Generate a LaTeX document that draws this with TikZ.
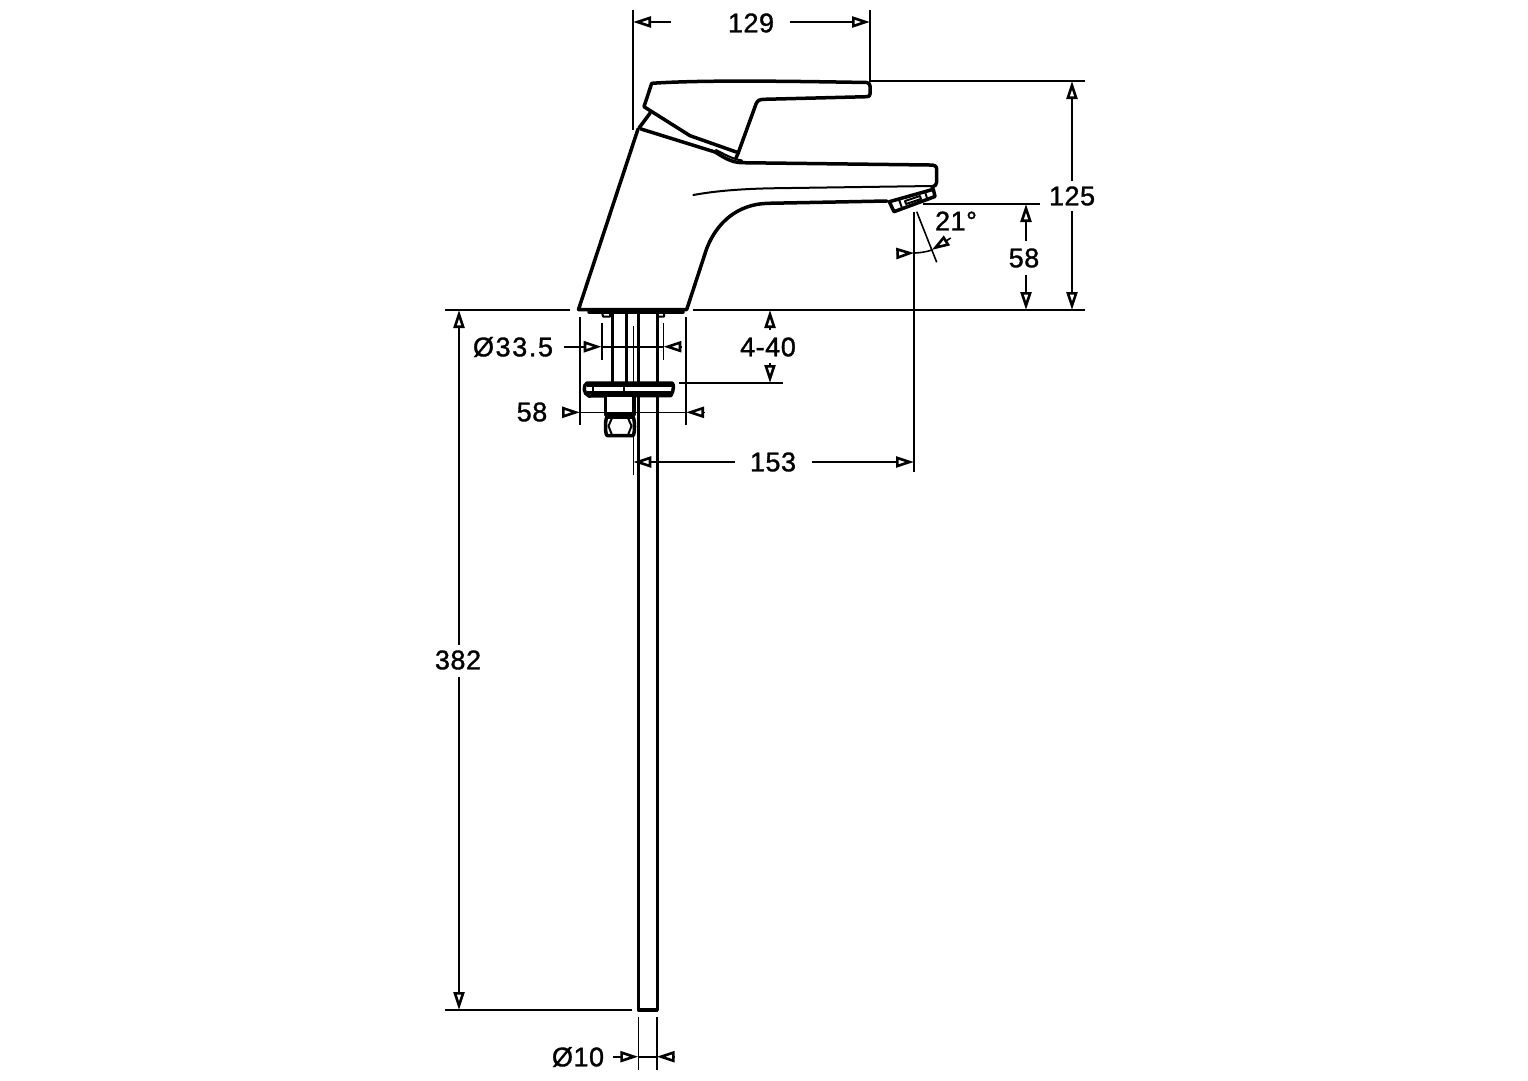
\documentclass[tikz,border=0pt]{standalone}
\usepackage{fontspec}
\setmainfont{Liberation Sans}
\usetikzlibrary{arrows.meta}
\tikzset{
  dimtip/.tip={Triangle[open,length=18pt,width=11pt,line width=2.6pt]},
  obj/.style={line width=3.5pt,line join=round,line cap=round,black},
  med/.style={line width=2pt,line join=round,line cap=round,black},
  dim/.style={line width=1.6pt,black},
  lab/.style={inner sep=0pt,font=\fontsize{27}{27}\selectfont\addfontfeatures{LetterSpace=2,FakeBold=1.2}}
}
\begin{document}
\begin{tikzpicture}[x=1pt,y=-1pt]
\useasboundingbox[fill=white] (0,0) rectangle (1528,1080);
% handle
\draw[obj] (651.7,83.3) .. controls (700,80) and (780,81) .. (866.7,82.5)
  .. controls (869,83) and (870,84) .. (870,86) -- (870,94)
  .. controls (870,96) and (869,96.5) .. (866.7,96.7) -- (764,99.3)
  .. controls (759,99.5) and (757.5,100.5) .. (756,104)
  -- (738.3,152.7) -- (690,135.7) -- (644,106.7) -- cycle;
\draw[obj] (650,113.3) -- (639,128);
% body
\draw[obj] (738.3,152.7) -- (736,158);
\draw[obj] (641,129) -- (715,152) .. controls (722,156) and (730,162.5) .. (742,162.7)
  -- (930,165) .. controls (935,165) and (936.7,166) .. (936.7,170) -- (936.7,182)
  .. controls (936.7,185) and (935,186) .. (932,187);
\draw[med] (716,150) .. controls (724,154) and (732,159) .. (742,160.5);
\draw[obj] (638,129) -- (578.5,309.5) -- (686.7,309.5) -- (706.7,248.5)
  .. controls (717,222) and (738,204) .. (768,203.3) -- (887,201);
\draw[med] (693.3,195) .. controls (715,191) and (740,189) .. (770,188.3) -- (932,186);
% aerator
\draw[obj] (889.3,201.7) -- (933.3,189.3) -- (935,196.5) -- (894,211.7) -- cycle;
\draw[med] (906,204) -- (921,199) -- (920,196) -- (905,201) -- cycle;
\draw[med] (899,199.5) -- (902,208);
\draw[med] (925,192) -- (927,198);
% under-body
\draw[obj] (589,312) -- (683,312);
\draw[med] (602,312) -- (603,316.5) -- (610,316.5) -- (610,312);
\draw[med] (657,312) -- (658,316.5) -- (664,316.5) -- (664,312);
\draw[obj] (612.7,312) -- (612.7,382);
\draw[obj] (626.7,312) -- (626.7,382);
\draw[obj] (638.3,312) -- (638.3,1010) -- (657.3,1010) -- (657.3,312);
\draw[dim] (633.3,326) -- (633.3,475);
% flange
\draw[obj,fill=white] (587,383) -- (672,383) .. controls (674,384) and (674,390) .. (671,395.5)
  -- (589,396) .. controls (583,394) and (583,385) .. (587,383) -- cycle;
\draw[med] (593,385) -- (593,394);
\draw[line width=3pt,black] (587,385.5) -- (672,385.5);
\draw[line width=3pt,black] (587,392.5) -- (671,392.5);
\draw[med] (624,383) -- (624,396);
% nut
\draw[obj,fill=white] (605.7,397) -- (605.7,415) -- (634,415) -- (634,397);
\draw[obj,fill=white] (607,417) -- (633,417) .. controls (635,419) and (635,434) .. (633,435.5)
  -- (607,435.5) .. controls (605,434) and (605,419) .. (607,417) -- cycle;
\draw[med] (612,418) -- (608.5,426) -- (612,435);
\draw[med] (628,418) -- (631.5,426) -- (628,435);
% extension lines
\draw[dim] (633,10) -- (633,130);
\draw[dim] (870,10) -- (870,82);
\draw[dim] (870,81) -- (1085,81);
\draw[dim] (445,310) -- (570,310);
\draw[dim] (693,310) -- (1085,310);
\draw[dim] (923,204) -- (1040,204);
\draw[dim] (914,212) -- (914,472);
\draw[dim] (916.7,211.7) -- (936.7,262.3);
\draw[dim] (601.7,323) -- (601.7,360);
\draw[dim] (663.3,323) -- (663.3,360);
\draw[dim] (580,317) -- (580,425);
\draw[dim] (686,317) -- (686,425);
\draw[dim] (679,383) -- (783,383);
\draw[dim] (445,1010) -- (632,1010);
\draw[dim] (638.3,1017) -- (638.3,1070);
\draw[dim] (656.7,1017) -- (656.7,1070);
% 129
\node[lab] (t129) at (751,23) {129};
\draw[dim,-{dimtip}] (671,22) -- (633,22);
\draw[dim,-{dimtip}] (790,22) -- (870,22);
% 125
\node[lab] (t125) at (1072,196) {125};
\draw[dim,-{dimtip}] (1072,181) -- (1072,81);
\draw[dim,-{dimtip}] (1072,211) -- (1072,310);
% 58 upper
\node[lab] (t58a) at (1024,258) {58};
\draw[dim,-{dimtip}] (1026,241) -- (1026,204);
\draw[dim,-{dimtip}] (1026,275) -- (1026,310);
% 21 deg
\node[lab] (t21) at (956,221) {21°};
\draw[dim,-{dimtip}] (896.5,253.5) -- (914.3,253);
\draw[dim] (914.3,253) .. controls (920,252.8) and (926,252) .. (931.7,250);
\draw[dim,-{dimtip}] (950.7,238) -- (931.7,250);
% 4-40
\node[lab] (t440) at (768,347) {4-40};
\draw[dim,-{dimtip}] (770,330) -- (770,310);
\draw[dim,-{dimtip}] (770,363) -- (770,383);
% 33.5
\node[lab,font=\fontsize{27}{27}\selectfont\addfontfeatures{LetterSpace=6,FakeBold=1.2}] (t335) at (513,347) {Ø33.5};
\draw[dim,-{dimtip}] (564,346.7) -- (601.7,346.7);
\draw[dim] (601.7,346.7) -- (663.3,346.7);
\draw[dim,-{dimtip}] (682,346.7) -- (663.3,346.7);
% 58 lower
\node[lab] (t58b) at (532,412) {58};
\draw[dim,-{dimtip}] (562,412.3) -- (580,412.3);
\draw[dim] (580,412.3) -- (686,412.3);
\draw[dim,-{dimtip}] (704.5,412.3) -- (686,412.3);
% 153
\node[lab] (t153) at (773,462) {153};
\draw[dim,-{dimtip}] (735,462) -- (633.3,462);
\draw[dim,-{dimtip}] (812,462) -- (914,462);
% 382
\node[lab] (t382) at (458,660) {382};
\draw[dim,-{dimtip}] (459,645) -- (459,310);
\draw[dim,-{dimtip}] (459,677) -- (459,1010);
% 10
\node[lab] (t10) at (578,1057) {Ø10};
\draw[dim,-{dimtip}] (613,1056.7) -- (638.3,1056.7);
\draw[dim] (638.3,1056.7) -- (656.7,1056.7);
\draw[dim,-{dimtip}] (675,1056.7) -- (656.7,1056.7);
\end{tikzpicture}
\end{document}
